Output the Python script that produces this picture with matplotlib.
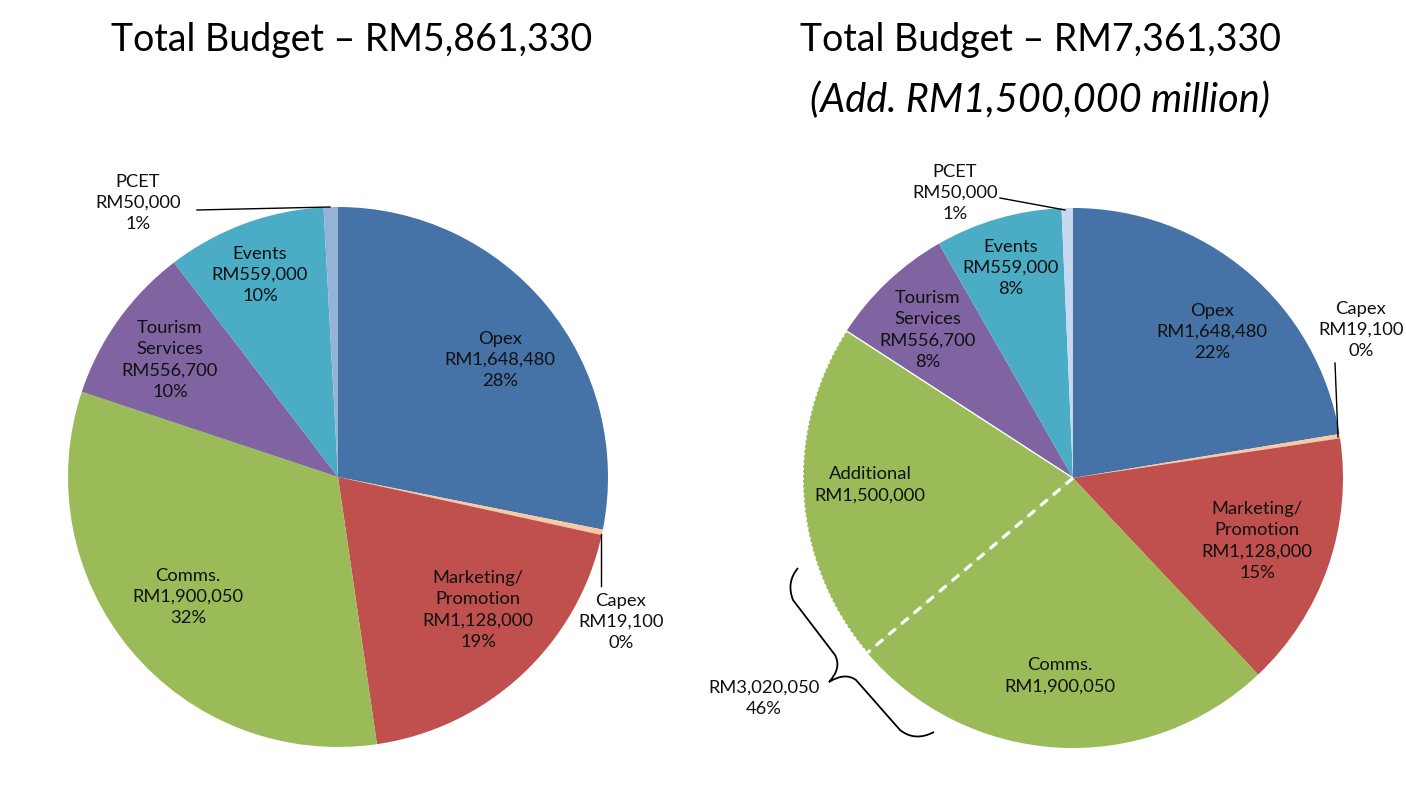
import matplotlib.pyplot as plt
from matplotlib.patches import Arc, PathPatch
from matplotlib.path import Path
import numpy as np

W, H = 1406, 796

# data
left_names = ["Opex", "Capex", "Marketing/\nPromotion", "Comms.", "Tourism\nServices", "Events", "PCET"]
left_values = [1648480, 19100, 1128000, 1900050, 556700, 559000, 50000]
left_pct = ["28%", "0%", "19%", "32%", "10%", "10%", "1%"]

right_names = ["Opex", "Capex", "Marketing/\nPromotion", "Comms.", "Additional", "Tourism\nServices", "Events", "PCET"]
right_values = [1648480, 19100, 1128000, 1900050, 1500000, 556700, 559000, 50000]
right_pct = ["22%", "0%", "15%", None, None, "8%", "8%", "1%"]

combined_value = 3020050
combined_pct = "46%"

left_colors = ["#4572A7", "#F9C9A3", "#C0504D", "#9BBB59", "#8064A2", "#4BACC6", "#95B3D7"]
right_colors = ["#4572A7", "#F9C9A3", "#C0504D", "#9BBB59", "#9BBB59", "#8064A2", "#4BACC6", "#C6D9F1"]

plt.rcParams['font.family'] = ['Lato', 'DejaVu Sans']
TXT = "#111111"
LBL = 13.2
LS = 1.42

fig = plt.figure(figsize=(W / 100, H / 100), dpi=100)
ax = fig.add_axes([0, 0, 1, 1])


def Y(py):
    return H - py


def money(v):
    return "RM{:,}".format(v)


# pies
c1 = (338, Y(477))
c2 = (1073, Y(478))
R = 270
w1, _ = ax.pie(left_values, colors=left_colors, startangle=90, counterclock=False,
               center=c1, radius=R, wedgeprops=dict(linewidth=0))
w2, _ = ax.pie(right_values, colors=right_colors, startangle=90, counterclock=False,
               center=c2, radius=R, wedgeprops=dict(linewidth=0))

# additional slice: white borders (dashed towards Comms, solid towards Tourism)
add = w2[4]
for ang, ls, lw in [(add.theta2, (0, (3, 2.2)), 2.3), (add.theta1, '-', 1.0)]:
    a = np.deg2rad(ang)
    ax.plot([c2[0], c2[0] + R * np.cos(a)], [c2[1], c2[1] + R * np.sin(a)],
            color="white", lw=lw, linestyle=ls, solid_capstyle='butt')
ax.add_patch(Arc(c2, 2 * R, 2 * R, theta1=add.theta1, theta2=add.theta2,
                 color="white", lw=1.2, linestyle=(0, (1.5, 1.5))))

# left labels
left_pos = [(500, 360), (621, 622), (478, 610), (188, 597), (170, 360), (260, 275), (138, 203)]
for name, v, p, (x, y) in zip(left_names, left_values, left_pct, left_pos):
    ax.text(x, Y(y), "{}\n{}\n{}".format(name, money(v), p), ha="center", va="center",
            fontsize=LBL, color=TXT, linespacing=LS)

# right labels
right_pos = [(1212, 332), (1361, 330), (1257, 541), (1060, 676), (870, 485),
             (928, 330), (1011, 268), (955, 193)]
for name, v, p, (x, y) in zip(right_names, right_values, right_pct, right_pos):
    s = "{}\n{}".format(name, money(v))
    if p:
        s += "\n" + p
    ax.text(x, Y(y), s, ha="center", va="center", fontsize=LBL, color=TXT, linespacing=LS)

ax.text(764, Y(698), "{}\n{}".format(money(combined_value), combined_pct), ha="center", va="center",
        fontsize=LBL, color=TXT, linespacing=LS)

# leader lines
for xs, ys in [([601, 601], [534, 586]), ([197, 330], [210, 207]),
               ([1000, 1065], [198, 210]), ([1335, 1338], [363, 437])]:
    ax.plot(xs, [Y(v) for v in ys], color="black", lw=1)

# brace
pts = [(798, 568), (786, 582), (793, 600), (835, 655), (842, 668), (829, 682),
       (845, 672), (856, 680), (900, 730), (915, 742), (934, 732)]
codes = [Path.MOVETO, Path.CURVE3, Path.CURVE3, Path.LINETO, Path.CURVE3, Path.CURVE3,
         Path.CURVE3, Path.CURVE3, Path.LINETO, Path.CURVE3, Path.CURVE3]
ax.add_patch(PathPatch(Path([(x, Y(y)) for x, y in pts], codes), fill=False, lw=1.3, color="black"))

# titles
ax.text(352, Y(40), "Total Budget \u2013 RM5,861,330", ha="center", va="center", fontsize=27, color="black")
ax.text(1040, Y(40), "Total Budget \u2013 RM7,361,330", ha="center", va="center", fontsize=27, color="black")
ax.text(1040, Y(100), "(Add. RM1,500,000 million)", ha="center", va="center", fontsize=28.5,
        style="italic", color="black")

ax.set_xlim(0, W)
ax.set_ylim(0, H)
ax.set_aspect('auto')
ax.axis('off')

fig.savefig("out.png", dpi=100, facecolor="white")
